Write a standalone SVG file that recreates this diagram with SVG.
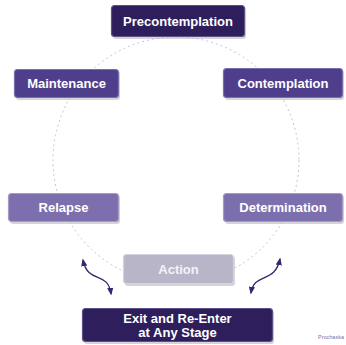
<svg xmlns="http://www.w3.org/2000/svg" width="346" height="345" viewBox="0 0 346 345">
<style>
.box{stroke-width:1.2}
.dark{fill:#2e1f5c;stroke:#5c5088}
.mid{fill:#4e3e8c;stroke:#7a6db0}
.light{fill:#7d6fae;stroke:#a49ac8}
.gray{fill:#b9b5c9;stroke:#d6d3e0}
.shadow{fill:#b8b8c0;opacity:0.6}
.lbl{font-family:"Liberation Sans",Arial,sans-serif;font-weight:bold;font-size:13px;fill:#fff;text-anchor:middle}
.conn{fill:none;stroke:#2f2a6e;stroke-width:1.3}
.ring{fill:none;stroke:#bdb8dc;stroke-width:0.9;stroke-dasharray:2 3}
</style>
<defs>
<marker id="ah" viewBox="0 0 10 10" refX="8" refY="5" markerWidth="6" markerHeight="6" orient="auto-start-reverse">
<path d="M0,1 L10,5 L0,9 z" fill="#2f2a6e"/>
</marker>
</defs>
<rect width="346" height="345" fill="#fff"/>
<g id="connectors">
<circle class="ring" cx="176" cy="160" r="123"/>
<path class="conn" d="M83,260 C88,285 108,270 111,294" marker-start="url(#ah)" marker-end="url(#ah)"/>
<path class="conn" d="M280,259 C275,284 254,272 251,293" marker-start="url(#ah)" marker-end="url(#ah)"/>
</g>
<g id="precontemplation">
<rect class="shadow" x="113" y="7" width="133" height="32" rx="3"/>
<rect class="box dark" x="111.5" y="5.5" width="133" height="31" rx="3"/>
<text class="lbl" x="178" y="25.5">Precontemplation</text>
</g>
<g id="maintenance">
<rect class="shadow" x="16" y="71" width="104" height="29" rx="3"/>
<rect class="box mid" x="14.5" y="69.5" width="104" height="28" rx="3"/>
<text class="lbl" x="66.5" y="88">Maintenance</text>
</g>
<g id="contemplation">
<rect class="shadow" x="225" y="70" width="119" height="30" rx="3"/>
<rect class="box mid" x="223.5" y="68.5" width="119" height="29" rx="3"/>
<text class="lbl" x="283" y="88">Contemplation</text>
</g>
<g id="relapse">
<rect class="shadow" x="10" y="195" width="110" height="29" rx="3"/>
<rect class="box light" x="8.5" y="193.5" width="110" height="28" rx="3"/>
<text class="lbl" x="63.5" y="212">Relapse</text>
</g>
<g id="determination">
<rect class="shadow" x="225" y="195" width="119" height="29" rx="3"/>
<rect class="box light" x="223.5" y="193.5" width="119" height="28" rx="3"/>
<text class="lbl" x="283" y="212">Determination</text>
</g>
<g id="action">
<rect class="shadow" x="125" y="256" width="110" height="30" rx="3"/>
<rect class="box gray" x="123.5" y="254.5" width="110" height="29" rx="3"/>
<text class="lbl" x="178.5" y="273.5" style="fill:#f4f3f8">Action</text>
</g>
<g id="exit">
<rect class="shadow" x="84" y="310" width="190" height="34" rx="3"/>
<rect class="box dark" x="82.5" y="308.5" width="190" height="33" rx="3"/>
<text class="lbl" x="177.5" y="322.5">Exit and Re-Enter</text>
<text class="lbl" x="177.5" y="337">at Any Stage</text>
</g>
<text x="318" y="339" font-family="Liberation Sans,Arial,sans-serif" font-size="5.5" fill="#7a70b0">Prochaska</text>
</svg>
